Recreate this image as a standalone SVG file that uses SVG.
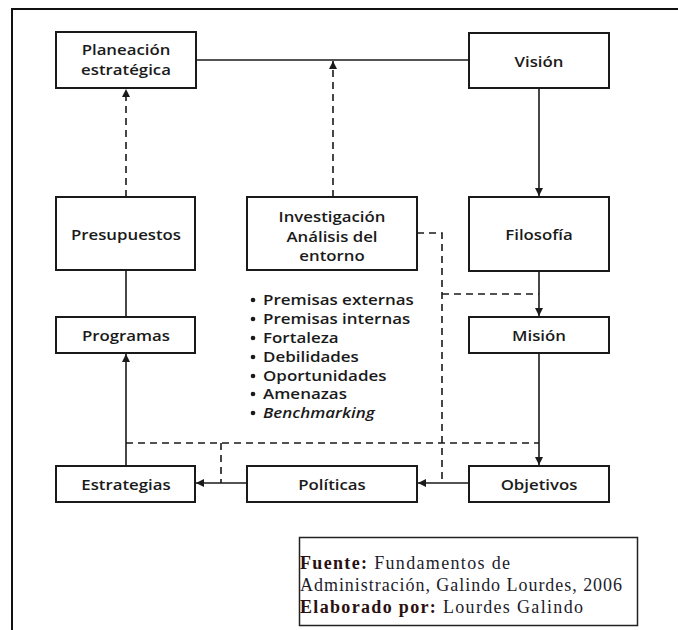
<svg xmlns="http://www.w3.org/2000/svg" width="678" height="630" viewBox="0 0 678 630">
  <style>
    .box { fill: #ffffff; stroke: #1a1a1a; stroke-width: 2; }
    .lbl { font-family: "Open Sans", "Noto Sans", sans-serif; font-weight: 600; font-size: 15px; fill: #1a1a1a; text-anchor: middle; }
    .lst { font-family: "Open Sans", "Noto Sans", sans-serif; font-weight: 600; font-size: 15px; fill: #1a1a1a; }
    .solid { fill: none; stroke: #1a1a1a; stroke-width: 1.6; }
    .dash { fill: none; stroke: #1a1a1a; stroke-width: 1.6; stroke-dasharray: 7 5; }
    .src { font-family: "Liberation Serif", "Times New Roman", serif; font-size: 18px; fill: #1c1c2a; }
    .srcb { font-weight: bold; fill: #2a1010; }
  </style>
  <defs>
    <marker id="arrow" markerUnits="userSpaceOnUse" markerWidth="10" markerHeight="10" refX="8" refY="4" orient="auto">
      <path d="M0,0 L8,4 L0,8 Z" fill="#1a1a1a"/>
    </marker>
  </defs>

  <rect width="678" height="630" fill="#ffffff"/>
  <!-- outer frame (open on right and bottom) -->
  <path d="M12 630 V9 H678" fill="none" stroke="#111" stroke-width="2"/>

  <g id="connectors">
    <path class="solid" d="M196 60 H469"/>
    <path class="dash" d="M333 197 V61" marker-end="url(#arrow)"/>
    <path class="dash" d="M126 197 V89" marker-end="url(#arrow)"/>
    <path class="solid" d="M539 88 V196" marker-end="url(#arrow)"/>
    <path class="solid" d="M126 270 V317"/>
    <path class="solid" d="M539 271 V316" marker-end="url(#arrow)"/>
    <path class="dash" d="M417 233 H442 V483"/>
    <path class="dash" d="M442 294 H539"/>
    <path class="solid" d="M539 353 V465" marker-end="url(#arrow)"/>
    <path class="dash" d="M126 443 H539"/>
    <path class="dash" d="M221 443 V483"/>
    <path class="solid" d="M469 483 H418" marker-end="url(#arrow)"/>
    <path class="solid" d="M247 483 H196" marker-end="url(#arrow)"/>
    <path class="solid" d="M126 466 V354" marker-end="url(#arrow)"/>
  </g>

  <!-- box labels are set in a slightly widened sans -->
  <g id="planeacion">
    <rect class="box" x="56" y="32" width="140" height="56"/>
    <text class="lbl" transform="translate(126 55) scale(1.12 1)">Planeación</text>
    <text class="lbl" transform="translate(126 75) scale(1.12 1)">estratégica</text>
  </g>
  <g id="vision">
    <rect class="box" x="469" y="33" width="140" height="55"/>
    <text class="lbl" transform="translate(539 67) scale(1.12 1)">Visión</text>
  </g>
  <g id="presupuestos">
    <rect class="box" x="56" y="197" width="139" height="73"/>
    <text class="lbl" transform="translate(126 240) scale(1.12 1)">Presupuestos</text>
  </g>
  <g id="investigacion">
    <rect class="box" x="247" y="197" width="170" height="73"/>
    <text class="lbl" transform="translate(332 222) scale(1.12 1)">Investigación</text>
    <text class="lbl" transform="translate(332 242) scale(1.12 1)">Análisis del</text>
    <text class="lbl" transform="translate(332 261) scale(1.12 1)">entorno</text>
  </g>
  <g id="filosofia">
    <rect class="box" x="469" y="197" width="140" height="74"/>
    <text class="lbl" transform="translate(539 240) scale(1.12 1)">Filosofía</text>
  </g>
  <g id="programas">
    <rect class="box" x="56" y="317" width="139" height="36"/>
    <text class="lbl" transform="translate(126 341) scale(1.12 1)">Programas</text>
  </g>
  <g id="mision">
    <rect class="box" x="469" y="317" width="140" height="36"/>
    <text class="lbl" transform="translate(539 341) scale(1.12 1)">Misión</text>
  </g>
  <g id="estrategias">
    <rect class="box" x="56" y="466" width="139" height="36"/>
    <text class="lbl" transform="translate(126 490) scale(1.12 1)">Estrategias</text>
  </g>
  <g id="politicas">
    <rect class="box" x="247" y="466" width="170" height="36"/>
    <text class="lbl" transform="translate(332 490) scale(1.12 1)">Políticas</text>
  </g>
  <g id="objetivos">
    <rect class="box" x="469" y="466" width="140" height="36"/>
    <text class="lbl" transform="translate(539 490) scale(1.12 1)">Objetivos</text>
  </g>

  <g id="premisas">
    <g fill="#1a1a1a">
      <circle cx="253" cy="300" r="2.3"/>
      <circle cx="253" cy="319" r="2.3"/>
      <circle cx="253" cy="338" r="2.3"/>
      <circle cx="253" cy="357" r="2.3"/>
      <circle cx="253" cy="376" r="2.3"/>
      <circle cx="253" cy="394" r="2.3"/>
      <circle cx="253" cy="413" r="2.3"/>
    </g>
    <text class="lst" transform="translate(263 305) scale(1.13 1)">Premisas externas</text>
    <text class="lst" transform="translate(263 324) scale(1.13 1)">Premisas internas</text>
    <text class="lst" transform="translate(263 343) scale(1.13 1)">Fortaleza</text>
    <text class="lst" transform="translate(263 362) scale(1.13 1)">Debilidades</text>
    <text class="lst" transform="translate(263 381) scale(1.13 1)">Oportunidades</text>
    <text class="lst" transform="translate(263 399) scale(1.13 1)">Amenazas</text>
    <text class="lst" transform="translate(263 418) scale(1.13 1)" font-style="italic">Benchmarking</text>
  </g>

  <g id="fuente">
    <rect x="299.5" y="537.5" width="338" height="88" fill="#ffffff" stroke="#222" stroke-width="1.5"/>
    <text class="src" x="300" y="569" textLength="210" lengthAdjust="spacing"><tspan class="srcb">Fuente:</tspan> Fundamentos de</text>
    <text class="src" x="300" y="591" textLength="322" lengthAdjust="spacing">Administración, Galindo Lourdes, 2006</text>
    <text class="src" x="300" y="613" textLength="283" lengthAdjust="spacing"><tspan class="srcb">Elaborado por:</tspan> Lourdes Galindo</text>
  </g>
</svg>
